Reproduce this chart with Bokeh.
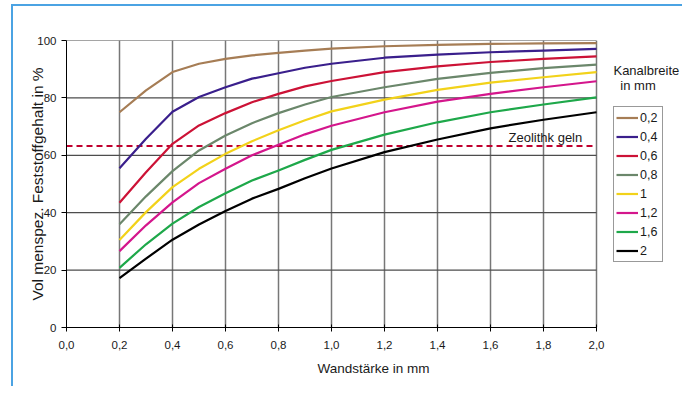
from bokeh.plotting import figure
from bokeh.models import FixedTicker, Legend, LegendItem, Label
from bokeh.embed import file_html
from bokeh.resources import INLINE

# ---- data ----
wall = [0.2, 0.3, 0.4, 0.5, 0.6, 0.7, 0.8, 0.9, 1.0, 1.2, 1.4, 1.6, 1.8, 2.0]
channel_labels = ["0,2", "0,4", "0,6", "0,8", "1", "1,2", "1,6", "2"]
s_02 = [75.0, 82.6, 89.0, 91.9, 93.6, 94.8, 95.7, 96.5, 97.2, 98.0, 98.5, 98.8, 99.0, 99.1]
s_04 = [55.5, 65.8, 75.2, 80.3, 83.7, 86.7, 88.6, 90.5, 91.9, 94.0, 95.1, 95.9, 96.5, 97.1]
s_06 = [43.5, 54.1, 64.0, 70.4, 74.7, 78.5, 81.4, 84.0, 85.9, 89.0, 91.0, 92.5, 93.6, 94.5]
s_08 = [36.0, 45.7, 54.5, 61.7, 66.9, 71.2, 74.7, 77.7, 80.3, 83.7, 86.6, 88.7, 90.4, 91.6]
s_10 = [30.5, 40.2, 48.9, 55.3, 60.5, 64.9, 68.7, 72.2, 75.3, 79.4, 82.8, 85.3, 87.2, 89.0]
s_12 = [26.6, 35.6, 43.6, 50.3, 55.3, 60.0, 63.7, 67.3, 70.3, 75.0, 78.7, 81.4, 83.7, 85.8]
s_16 = [20.8, 29.0, 36.2, 42.0, 46.8, 51.2, 54.7, 58.4, 61.9, 67.2, 71.5, 75.0, 77.7, 80.2]
s_20 = [17.2, 24.0, 30.6, 35.9, 40.6, 44.9, 48.3, 52.0, 55.4, 61.1, 65.5, 69.4, 72.4, 75.0]
series = [s_02, s_04, s_06, s_08, s_10, s_12, s_16, s_20]
colors = ["#a67d55", "#3a1f8c", "#cc1236", "#6b876b", "#f2d21a", "#d4168c", "#1ea84a", "#000000"]
zeolith_level = 63.2
x_ticks = [0.0, 0.2, 0.4, 0.6, 0.8, 1.0, 1.2, 1.4, 1.6, 1.8, 2.0]
x_tick_labels = ["0,0", "0,2", "0,4", "0,6", "0,8", "1,0", "1,2", "1,4", "1,6", "1,8", "2,0"]
y_ticks = [0, 20, 40, 60, 80, 100]
x_max = 2.0

FONT = "Liberation Sans"

# frame extends right of x=2.0 so the legend/labels there are not clipped
p = figure(
    x_range=(0, 2.317), y_range=(0, 100),
    frame_width=614, frame_height=287,
    output_backend="svg", toolbar_location=None,
    min_border_left=53, min_border_top=34, min_border_right=2, min_border_bottom=59,
)
p.styles = {"border-top": "2px solid #4ba3e3", "border-left": "2px solid #4ba3e3",
            "margin-top": "4px", "margin-left": "11px"}
p.outline_line_color = None
p.background_fill_color = "white"
p.border_fill_color = "white"

# axes
p.xaxis.ticker = FixedTicker(ticks=x_ticks)
p.xaxis.bounds = (0, x_max)
p.xaxis.major_label_overrides = {t: l for t, l in zip(x_ticks, x_tick_labels)}
p.yaxis.ticker = FixedTicker(ticks=y_ticks)
for ax in (p.xaxis[0], p.yaxis[0]):
    ax.axis_line_color = "black"
    ax.axis_line_width = 1
    ax.major_tick_line_color = "black"
    ax.minor_tick_line_color = None
    ax.major_label_text_font = FONT
    ax.major_label_text_font_size = "11.5px"
    ax.major_label_text_color = "#1a1a1a"
    ax.axis_label_text_font = FONT
    ax.axis_label_text_font_style = "normal"
    ax.axis_label_text_color = "#1a1a1a"
p.xaxis.major_tick_in = 3
p.xaxis.major_tick_out = 4
p.xaxis.major_label_standoff = 9
p.xaxis.axis_label = "Wandstärke in mm"
p.xaxis.axis_label_text_font_size = "13.5px"
p.xaxis.axis_label_standoff = 9
p.yaxis.major_tick_in = 0
p.yaxis.major_tick_out = 5
p.yaxis.major_label_standoff = 5
p.yaxis.axis_label = "Vol menspez. Feststoffgehalt in %"
p.yaxis.axis_label_text_font_size = "15.5px"
p.yaxis.axis_label_standoff = -12

# grid: vertical lines from the grid, horizontal lines drawn only up to x=2.0
p.xgrid.ticker = FixedTicker(ticks=x_ticks)
p.xgrid.grid_line_color = "#777777"
p.xgrid.grid_line_width = 1.5
p.ygrid.grid_line_color = None
p.segment(x0=[0] * len(y_ticks), y0=y_ticks, x1=[x_max] * len(y_ticks), y1=y_ticks,
          line_color="#4d4d4d", line_width=1.2)

# zeolith line
p.segment(x0=[0], y0=[zeolith_level], x1=[x_max], y1=[zeolith_level],
          line_color="#c0002e", line_width=2, line_dash="6 4")

items = []
for lab, ys, c in zip(channel_labels, series, colors):
    r = p.line(wall, ys, line_color=c, line_width=2.2, line_join="round")
    items.append(LegendItem(label=lab, renderers=[r]))

legend = Legend(items=items, location=(547, 65), orientation="vertical")
legend.label_text_font = FONT
legend.label_text_font_size = "12.5px"
legend.label_text_color = "#1a1a1a"
legend.glyph_width = 22
legend.glyph_height = 17
legend.label_height = 17
legend.label_standoff = 2
legend.spacing = 2
legend.padding = 2
legend.margin = 0
legend.border_line_color = "#333333"
legend.border_line_width = 1
legend.background_fill_color = "white"
legend.background_fill_alpha = 1
p.add_layout(legend, "center")

p.add_layout(Label(x=2.064, y=89.5, text="Kanalbreite", text_font=FONT,
                   text_font_size="13px", text_color="#1a1a1a", text_baseline="middle"))
p.add_layout(Label(x=2.09, y=84.3, text="in mm", text_font=FONT,
                   text_font_size="13px", text_color="#1a1a1a", text_baseline="middle"))
p.add_layout(Label(x=1.668, y=66.2, text="Zeolithk  geln", text_font=FONT,
                   text_font_size="13px", text_color="#1a1a1a", text_baseline="middle"))

open("out.html", "w").write(file_html(p, INLINE))
